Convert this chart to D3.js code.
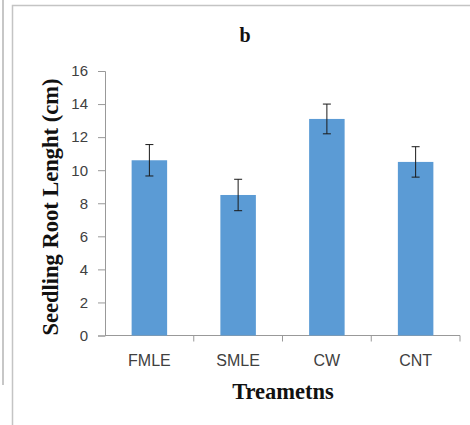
<!DOCTYPE html>
<html>
<head>
<meta charset="utf-8">
<script src="https://cdn.jsdelivr.net/npm/d3@7"></script>
<style>
  body { margin: 0; background: #fff; }
  svg { display: block; }
</style>
</head>
<body>
<svg id="chart" width="470" height="425"></svg>
<script>
const categories = ['FMLE', 'SMLE', 'CW', 'CNT'];
const means = [10.6, 8.5, 13.1, 10.5];
const errors = [0.95, 0.95, 0.9, 0.92];
const yTicks = [0, 2, 4, 6, 8, 10, 12, 14, 16];

const svg = d3.select('#chart');

// outer frame lines (screenshot borders)
svg.append('line').attr('x1', 3).attr('x2', 3).attr('y1', 0).attr('y2', 385)
  .attr('stroke', '#b5b5b5').attr('stroke-width', 1.5);
svg.append('path').attr('d', 'M12.5,425 V5.5 H470')
  .attr('fill', 'none').attr('stroke', '#c4c4c4').attr('stroke-width', 1.5);

const x = d3.scaleBand().domain(categories).range([105, 460]);
const y = d3.scaleLinear().domain([0, 16]).range([335.5, 71]);
const axisColor = '#999';

// y axis
const yAxis = svg.append('g').attr('transform', 'translate(105,0)')
  .call(d3.axisLeft(y).tickValues(yTicks).tickSize(7).tickPadding(10));
yAxis.select('.domain').attr('stroke', axisColor);
yAxis.selectAll('.tick line').attr('stroke', axisColor);
yAxis.selectAll('text').attr('font-family', '"Liberation Sans", Arial, sans-serif')
  .attr('font-size', 15).attr('fill', '#404040');

// x axis with ticks on category boundaries
const xAxis = svg.append('g').attr('transform', `translate(0,${y(0)})`);
xAxis.append('line').attr('x1', x.range()[0]).attr('x2', x.range()[1]).attr('stroke', axisColor);
const boundaries = categories.map((c) => x(c) + x.bandwidth());
xAxis.selectAll('line.tk').data(boundaries).join('line').attr('class', 'tk')
  .attr('x1', (d) => d).attr('x2', (d) => d).attr('y1', 0).attr('y2', 6)
  .attr('stroke', axisColor);
xAxis.selectAll('text').data(categories).join('text')
  .attr('x', (d) => x(d) + x.bandwidth() / 2)
  .attr('y', 30)
  .attr('text-anchor', 'middle')
  .attr('font-family', '"Liberation Sans", Arial, sans-serif')
  .attr('font-size', 16)
  .attr('fill', '#404040')
  .text((d) => d);

// bars
const bw = x.bandwidth() * 0.4;
svg.append('g').selectAll('rect').data(categories).join('rect')
  .attr('x', (d) => x(d) + x.bandwidth() / 2 - bw / 2)
  .attr('width', bw)
  .attr('y', (d, i) => y(means[i]))
  .attr('height', (d, i) => y(0) - y(means[i]))
  .attr('fill', '#5b9bd5');

// error bars
const eb = svg.append('g').attr('stroke', '#1a1a1a').attr('stroke-width', 1);
categories.forEach((c, i) => {
  const cx = x(c) + x.bandwidth() / 2;
  const hi = y(means[i] + errors[i]);
  const lo = y(means[i] - errors[i]);
  eb.append('line').attr('x1', cx).attr('x2', cx).attr('y1', hi).attr('y2', lo);
  eb.append('line').attr('x1', cx - 4).attr('x2', cx + 4).attr('y1', hi).attr('y2', hi);
  eb.append('line').attr('x1', cx - 4).attr('x2', cx + 4).attr('y1', lo).attr('y2', lo);
});

// title
svg.append('text').attr('x', 245).attr('y', 42).attr('text-anchor', 'middle')
  .attr('font-family', '"Liberation Serif", serif').attr('font-weight', 'bold')
  .attr('font-size', 20).attr('fill', '#111').text('b');

// axis titles
svg.append('text').attr('transform', 'translate(58,207) rotate(-90)')
  .attr('text-anchor', 'middle')
  .attr('font-family', '"Liberation Serif", serif').attr('font-weight', 'bold')
  .attr('font-size', 22.5).attr('fill', '#111').text('Seedling Root Lenght (cm)');

svg.append('text').attr('x', 283).attr('y', 399).attr('text-anchor', 'middle')
  .attr('font-family', '"Liberation Serif", serif').attr('font-weight', 'bold')
  .attr('font-size', 22.5).attr('fill', '#111').text('Treametns');
</script>
</body>
</html>
